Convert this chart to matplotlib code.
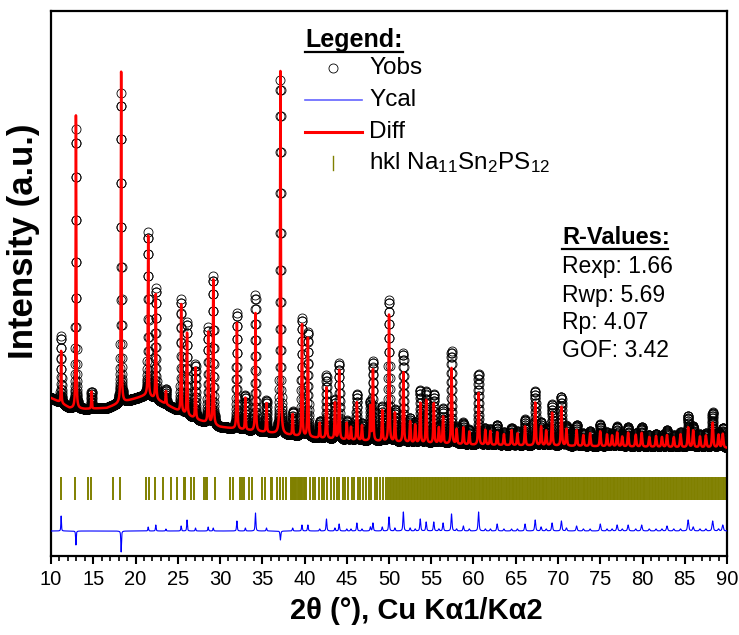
import numpy as np
import matplotlib
matplotlib.use("Agg")
import matplotlib.pyplot as plt
from matplotlib.lines import Line2D

plt.rcParams["font.family"] = ["Liberation Sans", "DejaVu Sans"]
plt.rcParams["mathtext.default"] = "regular"

# --- background knots (2theta, counts) ---
bg_tth = [10.0, 11.0, 12.2, 14.0, 16.6, 18.2, 20.2, 21.3, 23.1, 25.3, 27.4, 30.0,
          35.0, 40.0, 45.0, 50.0, 60.0, 70.0, 80.0, 90.0]
bg_cnt = [3160, 3080, 2960, 2940, 2960, 3060, 3160, 3220, 3080, 2880, 2720, 2580,
          2480, 2380, 2320, 2280, 2220, 2200, 2180, 2160]

# --- reflections: position, calculated height, observed height ---
peak_pos = [11.2, 12.95, 14.8, 18.3, 21.5, 22.4, 23.6, 25.4, 26.1, 27.1, 28.6, 29.2,
            32.0, 33.0, 34.2, 35.5, 37.15, 38.6, 39.7, 40.4, 41.8, 42.6, 43.6, 44.1,
            45.0, 45.5, 46.2, 46.8, 47.8, 48.1, 49.2, 50.0, 50.7, 51.7, 52.5, 53.1,
            53.7, 54.4, 55.3, 55.9, 56.4, 57.4, 58.0, 58.8, 59.5, 60.6, 61.4, 62.0,
            62.8, 63.6, 64.5, 65.2, 66.1, 67.3, 68.0, 68.6, 69.3, 70.4, 71.0, 72.2,
            73.0, 73.8, 75.0, 75.8, 76.4, 77.0, 77.6, 78.3, 79.2, 79.9, 80.8, 81.6,
            82.3, 82.9, 83.7, 84.5, 85.4, 86.0, 86.8, 87.5, 88.3, 89.0, 89.5]
calc_h = [1040, 5860, 340, 6620, 3200, 2100, 260, 2160, 1640, 1020, 1820, 2900,
          2120, 640, 2360, 580, 7260, 420, 2240, 1980, 300, 1020, 720, 1380,
          340, 260, 760, 300, 680, 1420, 620, 2540, 580, 1400, 420, 360,
          800, 860, 800, 320, 540, 1520, 300, 340, 260, 1040, 300, 280,
          260, 220, 300, 240, 380, 860, 380, 300, 660, 780, 340, 320,
          220, 260, 300, 240, 220, 280, 200, 280, 240, 280, 200, 220,
          200, 240, 200, 260, 400, 340, 220, 240, 500, 260, 280]
obs_h = [1340, 5580, 340, 6200, 3280, 2220, 300, 2260, 1860, 1080, 1900, 2960,
         2320, 700, 2720, 640, 7080, 480, 2360, 2100, 340, 1260, 780, 1520,
         380, 300, 920, 340, 760, 1580, 700, 2820, 640, 1780, 480, 400,
         1040, 1040, 980, 360, 700, 1860, 340, 440, 300, 1420, 340, 320,
         400, 260, 340, 280, 520, 1080, 460, 340, 820, 980, 400, 420,
         260, 300, 440, 280, 260, 400, 240, 400, 280, 400, 240, 260,
         240, 340, 240, 300, 620, 420, 260, 280, 700, 300, 400]

# --- hkl reflection markers ---
hkl_pos = [11.15, 12.84, 14.35, 14.73, 17.30, 18.16, 21.30, 21.60, 22.30, 23.30,
           24.20, 24.90, 25.70, 25.90, 26.60, 26.90, 28.10, 28.30, 28.45, 29.40,
           31.20, 31.50, 32.40, 32.60, 32.80, 33.40, 33.80, 35.00, 35.30, 36.00,
           36.20, 36.80, 37.10, 37.45, 37.80,
           38.35, 38.50, 38.60, 38.75, 38.90, 39.05, 39.20, 39.30, 39.45, 39.60,
           39.75, 39.90, 40.05, 40.20, 40.60, 40.95, 41.30, 41.70, 42.10, 42.30,
           42.70, 43.10, 43.50, 43.80, 44.10, 44.50, 44.80, 45.20, 45.60, 45.90,
           46.30, 46.60, 46.90, 47.30, 47.60, 47.90, 48.30, 48.60, 48.90, 49.30,
           49.60, 49.90,
           50.10, 50.25, 50.45, 50.60, 50.80, 51.00, 51.15, 51.35, 51.50, 51.70,
           51.85, 52.05, 52.20, 52.40, 52.55, 52.75, 52.90, 53.10, 53.30, 53.45,
           53.65, 53.80, 54.00, 54.15, 54.35, 54.50, 54.70, 54.90, 55.05, 55.25,
           55.40, 55.60, 55.75, 55.95, 56.10, 56.30, 56.50, 56.65, 56.85, 57.00,
           57.20, 57.35, 57.55, 57.70, 57.90, 58.10, 58.25, 58.45, 58.60, 58.80,
           59.00, 59.15, 59.35, 59.50, 59.70, 59.85, 60.05, 60.20, 60.40, 60.60,
           60.75, 60.95, 61.10, 61.30, 61.45, 61.65, 61.80, 62.00, 62.15, 62.35,
           62.55, 62.70, 62.90, 63.05, 63.25, 63.40, 63.60, 63.80, 63.95, 64.15,
           64.30, 64.50, 64.65, 64.85, 65.05, 65.20, 65.40, 65.55, 65.75, 65.90,
           66.10, 66.30, 66.45, 66.65, 66.80, 67.00, 67.15, 67.35, 67.50, 67.70,
           67.90, 68.05, 68.25, 68.40, 68.60, 68.75, 68.95, 69.15, 69.30, 69.50,
           69.65, 69.85, 70.00, 70.20, 70.40, 70.55, 70.75, 70.90, 71.10, 71.25,
           71.45, 71.65, 71.80, 72.00, 72.15, 72.35, 72.50, 72.70, 72.90, 73.05,
           73.25, 73.40, 73.60, 73.75, 73.95, 74.10, 74.30, 74.50, 74.65, 74.85,
           75.00, 75.20, 75.35, 75.55, 75.75, 75.90, 76.10, 76.25, 76.45, 76.60,
           76.80, 77.00, 77.15, 77.35, 77.50, 77.70, 77.85, 78.05, 78.25, 78.40,
           78.60, 78.75, 78.95, 79.10, 79.30, 79.50, 79.65, 79.85, 80.00, 80.20,
           80.35, 80.55, 80.75, 80.90, 81.10, 81.25, 81.45, 81.60, 81.80, 82.00,
           82.15, 82.35, 82.50, 82.70, 82.85, 83.05, 83.25, 83.40, 83.60, 83.75,
           83.95, 84.10, 84.30, 84.50, 84.65, 84.85, 85.00, 85.20, 85.35, 85.55,
           85.75, 85.90, 86.10, 86.25, 86.45, 86.60, 86.80, 87.00, 87.15, 87.35,
           87.50, 87.70, 87.85, 88.05, 88.25, 88.40, 88.60, 88.75, 88.95, 89.10,
           89.30, 89.50, 89.65, 89.85]

r_labels = ["Rexp: 1.66", "Rwp: 5.69", "Rp: 4.07", "GOF: 3.42"]
diff_offset = 500
hkl_band = (1120, 1580)


def pseudo_voigt(x, x0, fwhm, eta=0.6):
    d = (x - x0) / fwhm
    return eta / (1 + 4 * d ** 2) + (1 - eta) * np.exp(-4 * np.log(2) * d ** 2)


def pattern(x, heights):
    y = np.interp(x, bg_tth, bg_cnt).astype(float)
    for x0, h in zip(peak_pos, heights):
        y += h * pseudo_voigt(x, x0, 0.08 + 0.0012 * (x0 - 10))
    return y


tth_obs = np.arange(10.0, 90.0001, 0.01)
tth_calc = np.arange(10.0, 90.0001, 0.005)
y_obs = pattern(tth_obs, obs_h)
y_calc = pattern(tth_calc, calc_h)
y_diff = y_obs - pattern(tth_obs, calc_h) + diff_offset

W, H = 739, 635
fig = plt.figure(figsize=(W / 100, H / 100), dpi=100)
ax = fig.add_axes([51 / W, 1 - 556 / H, 676 / W, 545 / H])

ax.plot(tth_obs, y_obs, "o", mfc="none", mec="black", ms=6.5, mew=0.6, zorder=2)
ax.plot(tth_calc, y_calc, color="red", lw=1.8, zorder=3)
ax.plot(tth_obs, y_diff, color="blue", lw=0.8, zorder=3)
ax.vlines(hkl_pos, *hkl_band, color="#808000", lw=1.4)

ax.set_xlim(10, 90)
ax.set_ylim(0, 10900)
ax.set_yticks([])
ax.set_xticks(np.arange(10, 91, 5))
ax.set_xticks(np.arange(10, 91, 1), minor=True)
ax.tick_params(axis="x", which="major", length=6, width=1.5, direction="out",
               labelsize=14.5, pad=4)
ax.tick_params(axis="x", which="minor", length=3.5, width=1.2, direction="out")
for s in ax.spines.values():
    s.set_linewidth(1.6)

ax.set_xlabel("2θ (°), Cu Kα1/Kα2", fontsize=21, fontweight="bold")
ax.xaxis.set_label_coords(0.54, -0.075)
ax.set_ylabel("Intensity (a.u.)", fontsize=25, fontweight="bold")
ax.yaxis.set_label_coords(-0.016, 0.578)


def fp(x, y):
    return x / W, 1 - y / H


# legend block
fig.text(*fp(305, 40), "Legend:", fontsize=18, fontweight="bold", va="center")
fig.add_artist(Line2D([305 / W, 403 / W], [1 - 52 / H] * 2, color="black", lw=1.6))
rows_y = [68, 100, 132, 163]
fig.add_artist(Line2D([333 / W], [1 - rows_y[0] / H], marker="o", mfc="none",
                      mec="black", ms=6.5, mew=0.6))
fig.add_artist(Line2D([305 / W, 362 / W], [1 - rows_y[1] / H] * 2, color="#6464ff", lw=1.2))
fig.add_artist(Line2D([305 / W, 362 / W], [1 - rows_y[2] / H] * 2, color="red", lw=2.2))
fig.add_artist(Line2D([333 / W] * 2, [1 - (rows_y[3] - 7) / H, 1 - (rows_y[3] + 7) / H],
                      color="#808000", lw=1.0))
for y, t in zip(rows_y, ["Yobs", "Ycal", "Diff", "hkl Na$_{11}$Sn$_{2}$PS$_{12}$"]):
    fig.text(*fp(369, y), t, fontsize=17.5, va="center")

# R-values block
fig.text(*fp(562, 238), "R-Values:", fontsize=17, fontweight="bold", va="center")
fig.add_artist(Line2D([562 / W, 668 / W], [1 - 249 / H] * 2, color="black", lw=1.6))
for i, t in enumerate(r_labels):
    fig.text(*fp(562, 267 + 28 * i), t, fontsize=16.5, va="center")

fig.savefig("out.png", dpi=100)
